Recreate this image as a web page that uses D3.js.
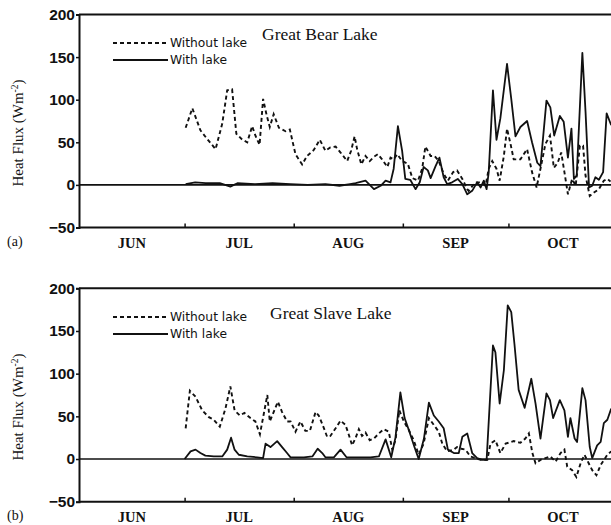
<!DOCTYPE html>
<html>
<head>
<meta charset="utf-8">
<script src="https://cdn.jsdelivr.net/npm/d3@7"></script>
<style>
  html, body { margin: 0; padding: 0; background: #fff; }
  svg { display: block; }
</style>
</head>
<body>
<svg id="chart" width="611" height="525"></svg>
<script>
// Days are counted from 1 June; values are surface heat flux in W m^-2.
const monthLabels = ["JUN", "JUL", "AUG", "SEP", "OCT"];
const monthStarts = [0, 30, 61, 92, 122, 153];
const yTickValues = [200, 150, 100, 50, 0, -50];
const seriesNames = ["Without lake", "With lake"];
const panelTitles = ["Great Bear Lake", "Great Slave Lake"];
const panelTags = ["(a)", "(b)"];

const bearWithoutLake = [
  [30.3, 67], [32.2, 90], [34.5, 64], [36.4, 54], [38.8, 42], [40.7, 72], [42.1, 111], [43.5, 112],
  [44.7, 60], [46.4, 53], [47.8, 50], [49.2, 69], [50.1, 58], [51.3, 47], [52.3, 101], [53.3, 82],
  [54.2, 68], [55.3, 83], [56.8, 67], [58.7, 63], [59.9, 65], [61.5, 36], [63.4, 24], [64.8, 34],
  [66.7, 41], [68.4, 53], [70.0, 40], [71.4, 44], [72.9, 45], [74.3, 38], [76.2, 28], [77.3, 40],
  [78.3, 57], [79.0, 42], [80.2, 24], [81.4, 34], [82.6, 28], [83.8, 33], [84.9, 36], [86.1, 30],
  [87.6, 21], [88.5, 32], [89.4, 30], [90.4, 36], [91.8, 28], [93.4, 25], [94.7, 8], [96.3, 5],
  [97.5, 19], [98.4, 45], [99.9, 34], [101.0, 34], [102.2, 28], [103.6, 13], [104.8, 5], [106.3, 15],
  [107.4, 17], [108.9, 7], [110.3, -5], [110.7, -7], [112.6, 3], [114.1, 3], [115.5, -1], [116.4, 19],
  [117.4, 28], [118.6, 19], [119.5, 5], [120.7, 34], [121.6, 66], [122.6, 48], [123.5, 30], [125.4, 30],
  [127.3, 42], [128.7, 15], [130.0, -3], [131.1, 19], [132.5, 48], [133.8, 58], [134.9, 20], [136.0, 26],
  [137.0, 38], [137.9, 15], [138.9, -11], [140.1, 7], [141.1, -1], [142.3, 46], [143.2, 46], [143.9, 11],
  [145.1, -13], [146.3, -9], [147.7, -5], [149.1, 5], [150.1, 7], [151.0, 4]
];

const bearWithLake = [
  [30.3, 1], [33, 3], [36, 2], [40, 2], [43, -2], [45, 2], [50, 1], [55, 2], [60, 1], [65, 0],
  [70, 1], [74, -1], [77, 1], [78.6, 2], [81.4, 5], [83.8, -5], [85.7, -1], [87.1, 5], [88.5, 3],
  [89.4, 19], [90.6, 69], [91.8, 40], [92.7, 7], [94.1, 6], [95.6, -5], [96.8, 3], [97.9, 21],
  [99.1, 17], [99.9, 8], [101.3, 22], [102.4, 32], [103.6, 9], [104.6, 1], [106.0, 3], [107.6, 7],
  [108.9, 1], [110.3, -11], [111.7, -7], [113.1, 3], [114.1, -3], [115.0, 5], [115.8, -5], [116.4, 15],
  [117.6, 111], [118.6, 53], [119.7, 78], [121.6, 142], [122.8, 101], [124.0, 57], [125.4, 68],
  [127.3, 75], [128.7, 50], [130.2, 26], [131.1, 22], [132.8, 99], [133.9, 91], [135.0, 58],
  [136.6, 81], [137.7, 74], [138.9, 32], [139.9, 66], [140.6, 7], [141.4, 11], [143.0, 155],
  [143.9, 86], [144.9, -3], [145.8, -1], [146.7, 9], [147.7, 6], [148.9, 15], [149.9, 84], [151.2, 70]
];

const slaveWithoutLake = [
  [30.3, 36], [31.5, 80], [33.1, 73], [35.0, 57], [36.9, 49], [38.3, 46], [40.0, 38], [41.6, 59],
  [43.0, 85], [44.2, 57], [45.7, 51], [47.0, 54], [48.7, 48], [50.1, 44], [51.4, 29], [52.5, 53],
  [53.5, 75], [54.2, 44], [55.3, 55], [56.5, 67], [57.7, 55], [59.1, 44], [60.1, 44], [61.5, 32],
  [62.9, 44], [64.3, 33], [65.6, 33], [67.2, 55], [68.1, 51], [69.4, 38], [70.5, 26], [71.4, 27],
  [72.9, 36], [74.3, 45], [75.7, 40], [76.6, 29], [77.6, 16], [78.6, 25], [79.5, 35], [80.4, 27],
  [81.4, 31], [82.6, 22], [83.8, 24], [85.2, 30], [86.6, 35], [88.0, 32], [89.0, 11], [89.9, 22],
  [91.0, 57], [92.3, 44], [93.7, 34], [95.1, 22], [96.5, 5], [97.9, 18], [99.4, 48], [100.8, 40],
  [102.2, 32], [103.2, 18], [104.6, 9], [106.5, 11], [107.4, 14], [108.6, 12], [109.8, 11], [111.2, 3],
  [114.1, -1], [116.0, -1], [116.9, 18], [118.3, 22], [119.7, 7], [121.2, 18], [123.5, 21], [125.4, 19],
  [126.8, 24], [127.8, 30], [128.8, 7], [129.7, -5], [131.1, -1], [132.5, 1], [133.9, 3], [135.4, -3],
  [136.8, 7], [137.9, 11], [138.7, -9], [140.1, -13], [141.3, -21], [142.5, -5], [143.6, 5], [144.8, -5],
  [145.8, -13], [147.0, -19], [148.2, -7], [150.1, 5], [151.2, 9]
];

const slaveWithLake = [
  [30.0, 0], [31.7, 9], [33.1, 11], [34.5, 7], [35.9, 4], [38.3, 3], [40.7, 3], [42.1, 11],
  [43.2, 25], [44.2, 11], [45.4, 5], [47.8, 3], [50.6, 2], [52.3, 1], [53.0, 18], [54.4, 14],
  [56.3, 21], [57.7, 14], [59.1, 7], [60.1, 2], [63.9, 2], [66.3, 3], [67.8, 12], [69.1, 7],
  [70.0, 2], [72.4, 2], [74.3, 11], [76.0, 2], [79.0, 2], [82.8, 2], [85.2, 3], [87.1, 23],
  [88.7, 2], [89.9, 25], [91.3, 78], [92.5, 48], [93.7, 34], [95.3, 14], [96.5, 0], [98.0, 24],
  [99.4, 66], [100.8, 51], [102.2, 44], [103.6, 36], [104.8, 11], [106.5, 7], [107.9, 7], [108.9, 26],
  [110.3, 30], [111.7, 7], [113.1, 1], [114.5, -1], [115.8, -1], [117.6, 133], [118.3, 125],
  [119.5, 65], [120.7, 104], [121.8, 180], [122.8, 172], [123.7, 135], [124.9, 81], [126.6, 60],
  [128.5, 94], [129.7, 65], [131.1, 24], [132.8, 77], [133.8, 69], [134.7, 48], [136.6, 69],
  [137.9, 57], [138.9, 26], [139.6, 48], [140.8, 24], [141.5, 20], [143.0, 83], [143.9, 69],
  [145.1, 14], [145.8, 1], [147.2, 16], [148.2, 20], [149.1, 42], [150.1, 46], [151.2, 59]
];

const panels = [
  { top: 14.5, bottom: 227.5, without: bearWithoutLake, withL: bearWithLake,
    title: panelTitles[0], titleX: 262, titleY: 40, tag: panelTags[0], legendY: 43 },
  { top: 288.3, bottom: 501.7, without: slaveWithoutLake, withL: slaveWithLake,
    title: panelTitles[1], titleX: 270, titleY: 319, tag: panelTags[1], legendY: 317 }
];

const svg = d3.select("#chart");
const left = 79;
const x = d3.scaleLinear().domain([0, 153]).range([left, left + 153 * 3.52]);
const xRight = x(153);

const ink = "#111";

panels.forEach(p => {
  const y = d3.scaleLinear().domain([-50, 200]).range([p.bottom, p.top]);
  const g = svg.append("g");

  // frame: top border
  g.append("line")
    .attr("x1", left).attr("x2", xRight)
    .attr("y1", y(200)).attr("y2", y(200))
    .attr("stroke", ink).attr("stroke-width", 2);

  // left axis with value labels
  const yAxis = d3.axisLeft(y).tickValues(yTickValues).tickSize(3).tickPadding(1)
    .tickFormat(d3.format("d"));
  const ya = g.append("g").attr("transform", `translate(${left},0)`).call(yAxis);
  ya.select(".domain").attr("stroke", ink).attr("stroke-width", 2);
  ya.selectAll(".tick line").attr("stroke", ink).attr("stroke-width", 1.5);
  ya.selectAll(".tick text")
    .attr("fill", ink)
    .style("font-family", "'Liberation Sans', Arial, sans-serif")
    .style("font-weight", "bold")
    .style("font-size", "15.5px");

  // bottom axis: month boundary ticks pointing into the plot
  const xAxis = d3.axisBottom(x).tickValues(monthStarts.slice(1, 5)).tickSize(-4).tickFormat("");
  const xa = g.append("g").attr("transform", `translate(0,${p.bottom})`).call(xAxis);
  xa.select(".domain").attr("stroke", ink).attr("stroke-width", 2)
    .attr("d", `M${left},0H${xRight}`);
  xa.selectAll(".tick line").attr("stroke", ink).attr("stroke-width", 1.5);

  // month names centred between boundaries
  const mids = monthLabels.map((m, i) => [m, (monthStarts[i] + monthStarts[i + 1]) / 2]);
  g.selectAll("text.month").data(mids).join("text")
    .attr("class", "month")
    .attr("x", d => x(d[1]))
    .attr("y", p.bottom + 20)
    .attr("text-anchor", "middle")
    .attr("fill", ink)
    .style("font-family", "'Liberation Serif', 'Times New Roman', serif")
    .style("font-weight", "bold")
    .style("font-size", "14.5px")
    .text(d => d[0]);

  // panel tag
  g.append("text")
    .attr("x", 7).attr("y", p.bottom + 18)
    .attr("fill", ink)
    .style("font-family", "'Liberation Serif', 'Times New Roman', serif")
    .style("font-size", "14px")
    .text(p.tag);

  // y-axis title
  const yt = g.append("text")
    .attr("transform", `translate(23,${(p.top + p.bottom) / 2 + 12}) rotate(-90)`)
    .attr("text-anchor", "middle")
    .attr("fill", ink)
    .style("font-family", "'Liberation Serif', 'Times New Roman', serif")
    .style("font-size", "15px");
  yt.append("tspan").text("Heat Flux (Wm");
  yt.append("tspan").attr("dy", -5).style("font-size", "9.5px").text("-2");
  yt.append("tspan").attr("dy", 5).text(")");

  // zero reference line
  g.append("line")
    .attr("x1", left).attr("x2", xRight)
    .attr("y1", y(0)).attr("y2", y(0))
    .attr("stroke", ink).attr("stroke-width", 1.6);

  const line = d3.line().x(d => x(d[0])).y(d => y(d[1])).curve(d3.curveLinear);

  g.append("path")
    .datum(p.without)
    .attr("d", line)
    .attr("fill", "none")
    .attr("stroke", ink)
    .attr("stroke-width", 1.9)
    .attr("stroke-dasharray", "4,3");

  g.append("path")
    .datum(p.withL)
    .attr("d", line)
    .attr("fill", "none")
    .attr("stroke", ink)
    .attr("stroke-width", 1.8)
    .attr("stroke-linejoin", "round");

  // legend
  const lg = g.append("g");
  [0, 1].forEach(i => {
    const ly = p.legendY + i * 17;
    lg.append("line")
      .attr("x1", 113).attr("x2", 168)
      .attr("y1", ly).attr("y2", ly)
      .attr("stroke", ink)
      .attr("stroke-width", 1.8)
      .attr("stroke-dasharray", i === 0 ? "4,3" : null);
    lg.append("text")
      .attr("x", 170).attr("y", ly + 4)
      .attr("fill", ink)
      .style("font-family", "'DejaVu Sans', sans-serif")
      .style("font-size", "11.5px")
      .attr("textLength", i === 0 ? 77 : 57)
      .attr("lengthAdjust", "spacingAndGlyphs")
      .text(seriesNames[i]);
  });

  // panel title
  g.append("text")
    .attr("x", p.titleX).attr("y", p.titleY)
    .attr("fill", ink)
    .style("font-family", "'Liberation Serif', 'Times New Roman', serif")
    .style("font-size", "17.5px")
    .text(p.title);
});
</script>
</body>
</html>
